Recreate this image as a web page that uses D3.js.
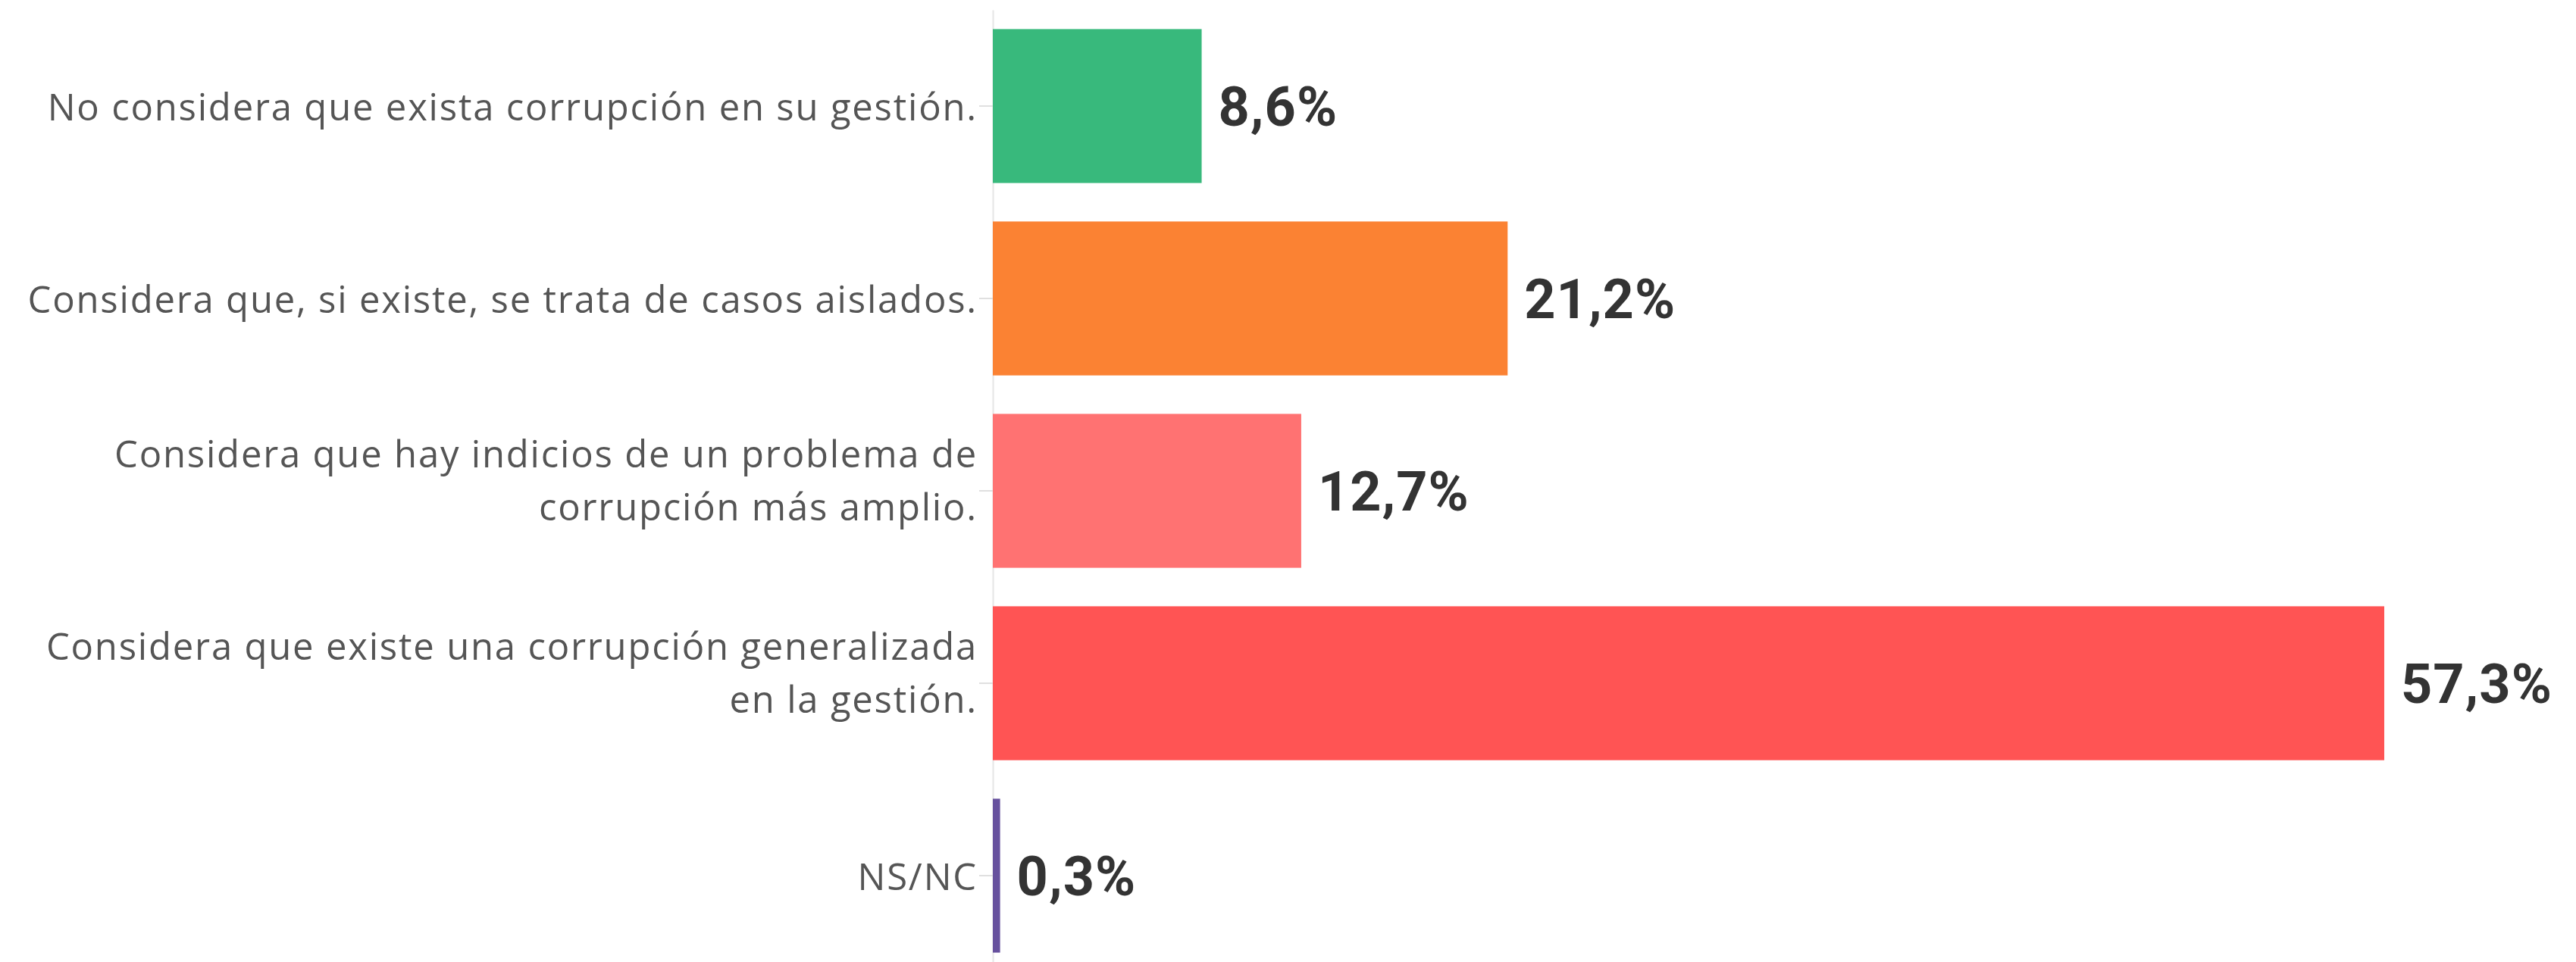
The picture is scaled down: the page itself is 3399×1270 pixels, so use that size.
<!DOCTYPE html>
<html>
<head>
<meta charset="utf-8">
<script src="https://cdn.jsdelivr.net/npm/d3@7"></script>
<style>
  html, body { margin: 0; padding: 0; background: #fff; }
</style>
</head>
<body>
<div id="chart"></div>
<script>
// categories (line breaks as in the original labels)
const categories = [
    "No considera que exista corrupción en su gestión.",
    "Considera que, si existe, se trata de casos aislados.",
    "Considera que hay indicios de un problema de\ncorrupción más amplio.",
    "Considera que existe una corrupción generalizada\nen la gestión.",
    "NS/NC"
];
const values = [8.6, 21.2, 12.7, 57.3, 0.3];
const colors = ["#38b97c", "#fb8233", "#ff7272", "#ff5454", "#67519e"];

const width = 3399;
const height = 1270;
const margin = { top: 13, right: 0, bottom: -13, left: 1310 };

const locale = d3.formatLocale({ decimal: ",", thousands: ".", grouping: [3], currency: ["", "€"] });
const fmt = locale.format(".1f");

const svg = d3.select("#chart").append("svg")
    .attr("width", width)
    .attr("height", height);

const g = svg.append("g")
    .attr("transform", "translate(" + margin.left + ", 0)");

const x = d3.scaleLinear()
    .domain([0, d3.max(values)])
    .range([0, 1836]);

const y = d3.scaleBand()
    .domain(categories)
    .range([margin.top, height - margin.bottom])
    .paddingInner(0.2)
    .paddingOuter(0.1);

// y axis
const axisG = g.append("g")
    .call(d3.axisLeft(y).tickSize(18).tickSizeOuter(0).tickPadding(4));

axisG.select(".domain").attr("stroke", "#e6e6e6").attr("stroke-width", 2);
axisG.selectAll(".tick line").attr("stroke", "#e0e0e0").attr("stroke-width", 2);

axisG.selectAll(".tick text")
    .style("font-family", "'Open Sans', sans-serif")
    .style("font-size", "49px")
    .style("letter-spacing", "1.8px")
    .style("fill", "#555")
    .attr("dy", null)
    .each(function(d) {
        const el = d3.select(this);
        const lines = d.split("\n");
        el.text(null);
        lines.forEach(function(line, i) {
            el.append("tspan")
                .attr("x", -20)
                .attr("y", i === 0 ? 19 - (lines.length - 1) * 50 : null)
                .attr("dy", i === 0 ? 0 : 70)
                .text(line);
        });
    });

// bars
g.append("g").selectAll("rect")
    .data(values)
    .join("rect")
    .attr("x", 0)
    .attr("y", (d, i) => y(categories[i]))
    .attr("width", d => x(d))
    .attr("height", y.bandwidth())
    .attr("fill", (d, i) => colors[i]);

// value labels
g.append("g").selectAll("text")
    .data(values)
    .join("text")
    .attr("x", d => x(d) + 22)
    .attr("y", (d, i) => y(categories[i]) + y.bandwidth() / 2)
    .attr("dy", "0.36em")
    .style("font-family", "Roboto, sans-serif")
    .style("font-weight", 700)
    .style("font-size", "72px")
    .style("letter-spacing", "1px")
    .style("fill", "#333")
    .text(d => fmt(d) + "%");
</script>
</body>
</html>
